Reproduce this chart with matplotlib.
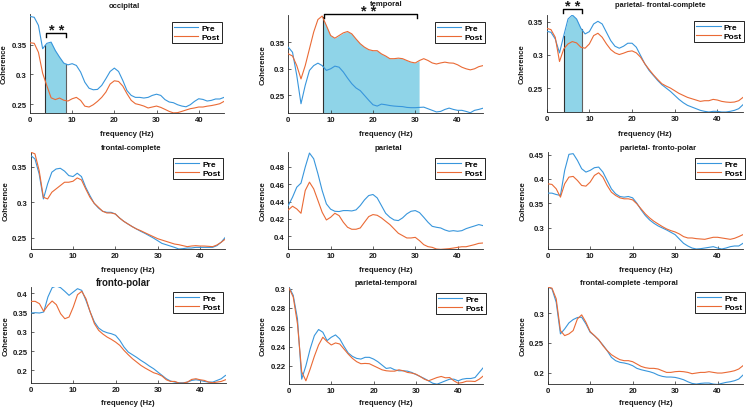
import numpy as np
import matplotlib
matplotlib.use('Agg')
import matplotlib.pyplot as plt

plt.rcParams['font.family'] = ['Liberation Sans', 'DejaVu Sans']
plt.rcParams['font.weight'] = 'bold'

W, H = 746, 410

freq = np.arange(0, 47)

occ_pre = [0.397, 0.3955, 0.382, 0.343, 0.352, 0.354, 0.340, 0.329, 0.319, 0.316, 0.318, 0.315, 0.304, 0.287,
           0.277, 0.2744, 0.275, 0.2817, 0.293, 0.305, 0.3106, 0.305, 0.29, 0.273, 0.265, 0.2617, 0.2617, 0.2606,
           0.2617, 0.265, 0.267, 0.265, 0.258, 0.254, 0.2528, 0.2494, 0.2472, 0.246, 0.2494, 0.255, 0.2594, 0.2583,
           0.2556, 0.2567, 0.259, 0.259, 0.2617]
occ_post = [0.353, 0.352, 0.337, 0.302, 0.281, 0.261, 0.258, 0.2606, 0.257, 0.2556, 0.2594, 0.2617, 0.2567, 0.247,
            0.2456, 0.2494, 0.255, 0.2617, 0.2706, 0.284, 0.2894, 0.2883, 0.2806, 0.2678, 0.2567, 0.2511, 0.2494,
            0.2472, 0.244, 0.2456, 0.2472, 0.245, 0.2417, 0.2383, 0.2358, 0.2362, 0.2383, 0.2406, 0.2428, 0.244,
            0.2456, 0.2456, 0.247, 0.248, 0.2494, 0.2511, 0.255]

temp_pre = [0.3406, 0.331, 0.2875, 0.2344, 0.269, 0.297, 0.306, 0.3106, 0.306, 0.297, 0.300, 0.305, 0.303, 0.294,
            0.2825, 0.272, 0.264, 0.259, 0.25, 0.241, 0.2325, 0.23, 0.2337, 0.2325, 0.231, 0.23, 0.2294, 0.229,
            0.2275, 0.227, 0.227, 0.2275, 0.228, 0.225, 0.222, 0.219, 0.220, 0.2237, 0.2262, 0.2237, 0.222, 0.222,
            0.22, 0.2175, 0.222, 0.2237, 0.226]
temp_post = [0.328, 0.324, 0.306, 0.281, 0.306, 0.3375, 0.369, 0.3925, 0.399, 0.381, 0.3625, 0.3575, 0.3625,
             0.3675, 0.370, 0.3656, 0.356, 0.347, 0.3406, 0.336, 0.334, 0.334, 0.328, 0.324, 0.319, 0.319, 0.320,
             0.319, 0.3156, 0.3125, 0.311, 0.3156, 0.319, 0.3156, 0.311, 0.309, 0.311, 0.3125, 0.311, 0.3106,
             0.3075, 0.303, 0.300, 0.298, 0.300, 0.304, 0.306]

pfc_pre = [0.3355, 0.334, 0.324, 0.303, 0.329, 0.354, 0.36, 0.354, 0.34, 0.3315, 0.335, 0.3465, 0.3505, 0.3465,
           0.334, 0.3215, 0.313, 0.31, 0.313, 0.3175, 0.3175, 0.3115, 0.299, 0.2865, 0.2765, 0.269, 0.2615, 0.255,
           0.25, 0.245, 0.239, 0.233, 0.228, 0.224, 0.2215, 0.219, 0.2165, 0.215, 0.214, 0.215, 0.215, 0.214, 0.214,
           0.215, 0.2165, 0.219, 0.225]
pfc_post = [0.34, 0.338, 0.3265, 0.29, 0.309, 0.3165, 0.32, 0.318, 0.3115, 0.31, 0.3165, 0.329, 0.3325, 0.3265,
            0.3165, 0.308, 0.303, 0.3005, 0.3025, 0.305, 0.306, 0.303, 0.2965, 0.2865, 0.278, 0.27, 0.263, 0.2565,
            0.253, 0.25, 0.246, 0.242, 0.239, 0.236, 0.234, 0.232, 0.23, 0.231, 0.231, 0.233, 0.232, 0.23, 0.229,
            0.2285, 0.229, 0.231, 0.236]

fc_pre = [0.366, 0.3613, 0.340, 0.3047, 0.326, 0.3425, 0.347, 0.348, 0.344, 0.3377, 0.3363, 0.341, 0.3363, 0.3212,
          0.3094, 0.2986, 0.292, 0.2873, 0.2858, 0.2858, 0.2835, 0.2778, 0.2731, 0.2693, 0.2656, 0.2623, 0.259,
          0.2561, 0.2528, 0.2495, 0.2458, 0.242, 0.2401, 0.2382, 0.2363, 0.234, 0.2345, 0.2354, 0.2354, 0.2363,
          0.2363, 0.2363, 0.2363, 0.2363, 0.2387, 0.2434, 0.2505]
fc_post = [0.3708, 0.3684, 0.3448, 0.3071, 0.3047, 0.3142, 0.3189, 0.3236, 0.3283, 0.3283, 0.3297, 0.3344, 0.3316,
           0.3189, 0.3071, 0.2986, 0.293, 0.2873, 0.2849, 0.2849, 0.2835, 0.2778, 0.2731, 0.2693, 0.2656, 0.2623,
           0.2599, 0.257, 0.2542, 0.2514, 0.2486, 0.2467, 0.2448, 0.2429, 0.241, 0.2401, 0.2387, 0.2373, 0.2382,
           0.2387, 0.2382, 0.2382, 0.2378, 0.2373, 0.2396, 0.2434, 0.248]

par_pre = [0.4354, 0.445, 0.4565, 0.4612, 0.4796, 0.4958, 0.4892, 0.4719, 0.4527, 0.4373, 0.4312, 0.4288, 0.4285,
           0.4296, 0.4296, 0.4292, 0.4304, 0.4354, 0.4419, 0.4469, 0.4481, 0.4442, 0.4354, 0.4265, 0.4219, 0.4188,
           0.4181, 0.4212, 0.4258, 0.4288, 0.4296, 0.4273, 0.4219, 0.4162, 0.4115, 0.4104, 0.4096, 0.4073, 0.4058,
           0.4065, 0.4058, 0.4065, 0.4088, 0.4104, 0.4119, 0.4135, 0.4123]
par_post = [0.4304, 0.4346, 0.4315, 0.4265, 0.4527, 0.4623, 0.4546, 0.4412, 0.4277, 0.4188, 0.4219, 0.4265, 0.4238,
            0.4162, 0.4104, 0.4081, 0.4081, 0.4096, 0.4162, 0.4227, 0.425, 0.4242, 0.4212, 0.4173, 0.4135, 0.4085,
            0.4035, 0.4008, 0.3981, 0.3981, 0.3988, 0.395, 0.3904, 0.3881, 0.3873, 0.3854, 0.385, 0.3854, 0.3858,
            0.3865, 0.3873, 0.388, 0.388, 0.3892, 0.3904, 0.3919, 0.3923]

pfp_pre = [0.3709, 0.3709, 0.3681, 0.3661, 0.4177, 0.4507, 0.4521, 0.4383, 0.4211, 0.4142, 0.4177, 0.4232, 0.4245,
           0.4142, 0.397, 0.3798, 0.3695, 0.364, 0.3626, 0.364, 0.3612, 0.3502, 0.3365, 0.3248, 0.3158, 0.309,
           0.3035, 0.2993, 0.2952, 0.2904, 0.2856, 0.2766, 0.2677, 0.2622, 0.258, 0.256, 0.2567, 0.258, 0.2594,
           0.2608, 0.258, 0.256, 0.258, 0.2608, 0.2622, 0.2622, 0.2677]
pfp_post = [0.3901, 0.3888, 0.3798, 0.3626, 0.3901, 0.4039, 0.4053, 0.397, 0.3867, 0.3853, 0.3936, 0.4073, 0.4128,
            0.4039, 0.3867, 0.3729, 0.3661, 0.3612, 0.3592, 0.3592, 0.3571, 0.3489, 0.3385, 0.3282, 0.32, 0.3131,
            0.3076, 0.3021, 0.2973, 0.2938, 0.2911, 0.287, 0.2815, 0.2787, 0.2787, 0.2773, 0.2766, 0.2759, 0.278,
            0.2801, 0.2801, 0.2787, 0.2773, 0.2759, 0.278, 0.2815, 0.2856]

fp_pre = [0.3489, 0.3497, 0.3489, 0.3515, 0.3905, 0.4147, 0.4191, 0.4147, 0.4052, 0.3948, 0.4035, 0.4121, 0.4078,
          0.3818, 0.3515, 0.3254, 0.3098, 0.302, 0.2977, 0.2951, 0.2908, 0.2778, 0.2604, 0.2474, 0.2405, 0.2335,
          0.2257, 0.2188, 0.211, 0.2041, 0.1954, 0.1867, 0.1781, 0.172, 0.1694, 0.1676, 0.1676, 0.1694, 0.1737,
          0.1754, 0.1737, 0.1711, 0.1694, 0.1694, 0.1737, 0.1781, 0.1867]
fp_post = [0.3792, 0.3792, 0.3731, 0.3532, 0.3688, 0.3801, 0.3705, 0.3471, 0.3341, 0.3384, 0.3645, 0.3965, 0.4052,
           0.3861, 0.3515, 0.3211, 0.3038, 0.2942, 0.2864, 0.2804, 0.2734, 0.2648, 0.2517, 0.2405, 0.2301, 0.2214,
           0.2127, 0.2058, 0.1997, 0.1937, 0.1902, 0.185, 0.1754, 0.1711, 0.1711, 0.1667, 0.1667, 0.1694, 0.1763,
           0.1781, 0.1754, 0.1737, 0.1694, 0.1676, 0.1694, 0.1711, 0.1754]

pt_pre = [0.3017, 0.2931, 0.2688, 0.2063, 0.2202, 0.2376, 0.2514, 0.2577, 0.2549, 0.2462, 0.2497, 0.2521, 0.248,
          0.2403, 0.2334, 0.2299, 0.2278, 0.2271, 0.2289, 0.2289, 0.2271, 0.2244, 0.2209, 0.2174, 0.2181, 0.216,
          0.215, 0.215, 0.2146, 0.2133, 0.2112, 0.2091, 0.207, 0.2046, 0.2021, 0.2011, 0.2028, 0.2046, 0.2063,
          0.2063, 0.2046, 0.2063, 0.207, 0.207, 0.208, 0.2133, 0.2185]
pt_post = [0.3007, 0.2913, 0.2636, 0.214, 0.2046, 0.2167, 0.23, 0.2417, 0.2497, 0.2452, 0.2417, 0.2438, 0.2427,
           0.2375, 0.2323, 0.2278, 0.2244, 0.2223, 0.2226, 0.2223, 0.2202, 0.2181, 0.216, 0.215, 0.2146, 0.2146,
           0.216, 0.215, 0.2133, 0.2126, 0.2115, 0.2091, 0.2063, 0.2046, 0.2063, 0.208, 0.2091, 0.2077, 0.208,
           0.2046, 0.2021, 0.2028, 0.2042, 0.2042, 0.2039, 0.2063, 0.2098]

fct_pre = [0.3438, 0.341, 0.3185, 0.2652, 0.2736, 0.2837, 0.2893, 0.2927, 0.2933, 0.282, 0.268, 0.2623, 0.255,
           0.2466, 0.2371, 0.2258, 0.2202, 0.2174, 0.2163, 0.2146, 0.2118, 0.2073, 0.205, 0.2033, 0.2017, 0.1994,
           0.196, 0.1938, 0.1927, 0.1927, 0.1921, 0.1904, 0.1882, 0.1848, 0.182, 0.1809, 0.182, 0.1826, 0.1826,
           0.1809, 0.1803, 0.182, 0.1837, 0.1848, 0.1865, 0.1893, 0.196]
fct_post = [0.3438, 0.3421, 0.3242, 0.2708, 0.2623, 0.2652, 0.2708, 0.2904, 0.2972, 0.2848, 0.2691, 0.2623, 0.2556,
            0.2455, 0.2371, 0.2303, 0.2258, 0.2219, 0.2202, 0.2202, 0.2185, 0.2146, 0.2106, 0.2084, 0.2073, 0.2073,
            0.2062, 0.2033, 0.2005, 0.2005, 0.2017, 0.2022, 0.2017, 0.2005, 0.1983, 0.1994, 0.2005, 0.2005, 0.2017,
            0.2005, 0.1994, 0.1994, 0.2005, 0.2017, 0.2033, 0.2062, 0.2118]

titles = ['occipital', 'temporal', 'parietal- frontal-complete',
          'frontal-complete', 'parietal', 'parietal- fronto-polar',
          'fronto-polar', 'parietal-temporal', 'frontal-complete -temporal']
pre_series = [occ_pre, temp_pre, pfc_pre, fc_pre, par_pre, pfp_pre, fp_pre, pt_pre, fct_pre]
post_series = [occ_post, temp_post, pfc_post, fc_post, par_post, pfp_post, fp_post, pt_post, fct_post]
ylims = [(0.2356, 0.401), (0.217, 0.401), (0.214, 0.360),
         (0.234, 0.371), (0.3854, 0.497), (0.256, 0.4555),
         (0.167, 0.4165), (0.2013, 0.3017), (0.181, 0.344)]
yticks = [[0.25, 0.3, 0.35], [0.25, 0.3, 0.35], [0.25, 0.3, 0.35],
          [0.25, 0.3, 0.35], [0.4, 0.42, 0.44, 0.46, 0.48], [0.3, 0.35, 0.4, 0.45],
          [0.2, 0.25, 0.3, 0.35, 0.4], [0.22, 0.24, 0.26, 0.28, 0.3], [0.2, 0.25, 0.3]]
xticks = [0, 10, 20, 30, 40]
series_names = ['Pre', 'Post']
# significant bands: (panel index, start, end, which series bounds the shading)
sig_bands = [(0, 3.6, 8.5, 'pre'), (1, 8.1, 30.9, 'post'), (2, 4.0, 8.2, 'pre')]

# layout (pixels): left, top, right, bottom
boxes = [(30, 15, 224, 114), (288.3, 16, 483, 114), (546.7, 16, 743, 113),
         (30.7, 153, 225.3, 250), (288.3, 153, 483, 250), (547.7, 153, 743, 250),
         (31, 288, 225.5, 384), (289, 288, 483.5, 385), (547.7, 288, 743, 385)]
title_pos = [(124, 6), (386.7, 4.5), (660, 5.5),
             (131, 149), (388, 148.5), (658, 148.5),
             (123.3, 283.5), (386, 283.5), (628.5, 283.5)]
title_size = [5.6, 5.6, 5.4, 5.6, 5.6, 5.6, 7.0, 5.6, 5.6]
ylab_x = [4.2, 262.7, 522, 5.7, 263, 522.7, 5.7, 263, 522.7]
xlab_y = [135, 135, 135, 270, 270, 270, 404, 404, 404]
leg_corner = [(221.7, 23.3), (485, 22.7), (744.3, 21.7),
              (222.7, 159), (485, 159), (745, 159),
              (222.7, 293.3), (486, 294), (745, 293)]

BLUE = '#3896dc'
ORANGE = '#ea6a35'
FILL = '#8fd4e8'
SPINE = '#262626'

fig = plt.figure(figsize=(W / 100, H / 100), dpi=100)

axes = []
for i in range(9):
    l, t, r, b = boxes[i]
    ax = fig.add_axes([l / W, 1 - b / H, (r - l) / W, (b - t) / H])
    axes.append(ax)
    pre = np.array(pre_series[i])
    post = np.array(post_series[i])
    ax.set_xlim(0, 46)
    ax.set_ylim(*ylims[i])
    lo = ylims[i][0]
    for (pi, a, bnd, which) in sig_bands:
        if pi == i:
            src = pre if which == 'pre' else post
            fx = np.linspace(a, bnd, 200)
            fy = np.interp(fx, freq, src)
            ax.fill_between(fx, fy, lo, color=FILL, lw=0, zorder=1)
            ax.plot([a, a], [lo, fy[0]], color='#303030', lw=0.8, zorder=2)
            if i != 1:
                ax.plot([bnd, bnd], [lo, fy[-1]], color='#606060', lw=0.8, zorder=2)
    ax.plot(freq, pre, color=BLUE, lw=0.8, label=series_names[0], zorder=3)
    ax.plot(freq, post, color=ORANGE, lw=0.8, label=series_names[1], zorder=3)
    for s in ['top', 'right']:
        ax.spines[s].set_visible(False)
    for s in ['left', 'bottom']:
        ax.spines[s].set_color(SPINE)
        ax.spines[s].set_linewidth(0.6)
    ax.set_xticks(xticks)
    ax.set_xticklabels([str(v) for v in xticks])
    ax.set_yticks(yticks[i])
    ax.set_yticklabels([('%g' % v) for v in yticks[i]])
    ax.tick_params(direction='in', length=2, width=0.5, colors=SPINE, labelsize=5.6, pad=2.5)
    for lab in ax.get_xticklabels() + ax.get_yticklabels():
        lab.set_fontweight('bold')
        lab.set_color('#1a1a1a')
    cx, cy = title_pos[i]
    fig.text(cx / W, 1 - cy / H, titles[i], ha='center', va='center', fontsize=title_size[i],
             fontweight='bold', color='#1a1a1a')
    fig.text(ylab_x[i] / W, 1 - ((t + b) / 2) / H, 'Coherence', rotation=90, ha='center', va='center',
             fontsize=5.6, fontweight='bold', color='#1a1a1a')
    fig.text(((l + r) / 2) / W, 1 - xlab_y[i] / H, 'frequency (Hz)', ha='center', va='center',
             fontsize=5.6, fontweight='bold', color='#1a1a1a')
    lx, ly = leg_corner[i]
    leg = ax.legend(loc='upper right', bbox_to_anchor=(lx / W, 1 - ly / H), bbox_transform=fig.transFigure,
                    borderaxespad=0, fancybox=False, framealpha=1, edgecolor='black', fontsize=6,
                    handlelength=2.9, handletextpad=0.4, borderpad=0.25, labelspacing=0.15)
    leg.get_frame().set_linewidth(0.6)
    for txt in leg.get_texts():
        txt.set_fontweight('bold')

# significance brackets: panel, x start, x end, top y, end y, star x
brackets = [(0, 3.9, 8.45, 0.369, 0.362, 6.3),
            (1, 8.5, 30.5, 0.403, 0.396, 19.1),
            (2, 3.9, 8.3, 0.369, 0.363, 6.15)]
for (pi, x0, x1, ytop, yend, sx) in brackets:
    ax = axes[pi]
    ax.plot([x0, x0, x1, x1], [yend, ytop, ytop, yend], color='black', lw=1.0, clip_on=False, zorder=4)
    ax.annotate('* *', xy=(sx, ytop), xytext=(0, -0.6), textcoords='offset points',
                ha='center', va='baseline', fontsize=10.5, fontweight='bold', color='#1a1a1a',
                annotation_clip=False)

fig.savefig('out.png', dpi=100)
